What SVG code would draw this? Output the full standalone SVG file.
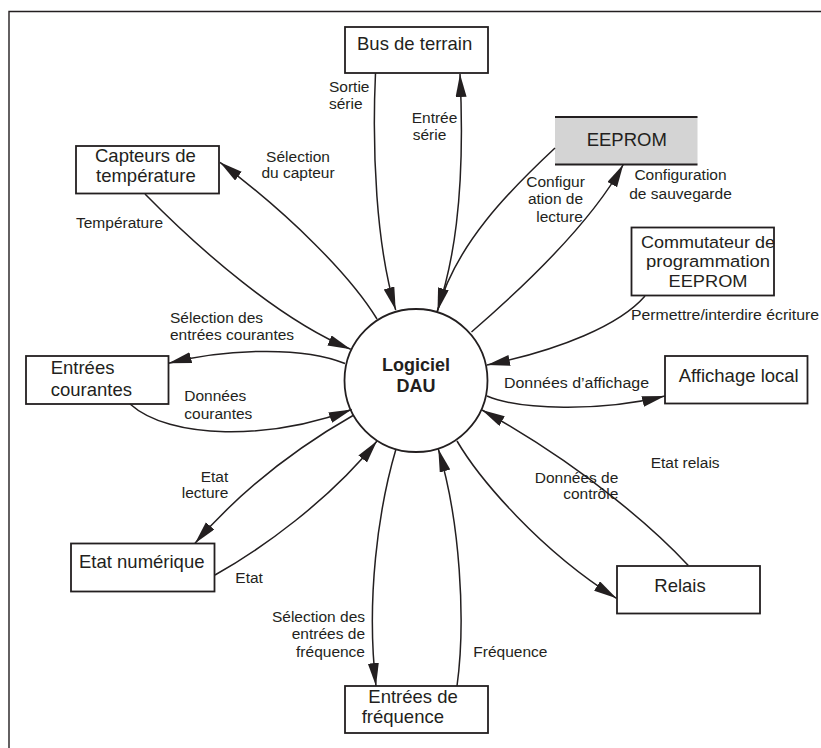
<svg xmlns="http://www.w3.org/2000/svg" width="821" height="748" viewBox="0 0 821 748">
  <style>
    .box { fill: #ffffff; stroke: #231f20; stroke-width: 1.8; }
    .frame { fill: none; stroke: #231f20; stroke-width: 1.4; }
    .flow { fill: none; stroke: #231f20; stroke-width: 1.5; marker-end: url(#arrow); }
    .node-text { font-family: "Liberation Sans", Arial, sans-serif; font-size: 18.5px; fill: #231f20; }
    .node-text-tight { font-family: "Liberation Sans", Arial, sans-serif; font-size: 17.2px; fill: #231f20; }
    .label { font-family: "Liberation Sans", Arial, sans-serif; font-size: 15.5px; fill: #231f20; }
    .center-text { font-family: "Liberation Sans", Arial, sans-serif; font-size: 18px; font-weight: bold; fill: #231f20; }
  </style>
  <defs>
    <marker id="arrow" markerUnits="userSpaceOnUse" markerWidth="24" markerHeight="12" refX="23" refY="5.5" orient="auto">
      <path d="M0,0 L23,5.5 L0,11 Z" fill="#231f20"/>
    </marker>
  </defs>

  <rect width="821" height="748" fill="#ffffff"/>

  <!-- outer frame: top and left edges only -->
  <path class="frame" d="M9,748 L9,11.5 L821,11.5"/>

  <!-- central process -->
  <g id="logiciel-dau">
    <circle cx="416" cy="380.5" r="71.5" fill="#ffffff" stroke="#231f20" stroke-width="1.8"/>
    <text class="center-text" x="416" y="371" text-anchor="middle">Logiciel</text>
    <text class="center-text" x="416" y="392" text-anchor="middle">DAU</text>
  </g>

  <!-- external entities -->
  <g id="bus-de-terrain">
    <rect class="box" x="345" y="27" width="143" height="46"/>
    <text class="node-text" x="357" y="50">Bus de terrain</text>
  </g>

  <g id="capteurs-temperature">
    <rect class="box" x="76" y="146" width="143" height="47.5"/>
    <text class="node-text" x="95" y="162.3">Capteurs de</text>
    <text class="node-text" x="96" y="182">température</text>
  </g>

  <g id="eeprom">
    <rect x="555" y="117" width="142.5" height="47.5" fill="#d4d4d4"/>
    <line x1="555" y1="117" x2="697.5" y2="117" stroke="#231f20" stroke-width="1.8"/>
    <line x1="555" y1="164.5" x2="697.5" y2="164.5" stroke="#231f20" stroke-width="1.8"/>
    <text class="node-text" x="586.7" y="145.5">EEPROM</text>
  </g>

  <g id="commutateur-eeprom">
    <rect class="box" x="631.5" y="227.5" width="142.5" height="68"/>
    <text class="node-text-tight" x="708" y="247.5" text-anchor="middle" textLength="134" lengthAdjust="spacingAndGlyphs">Commutateur de</text>
    <text class="node-text-tight" x="708" y="266.7" text-anchor="middle" textLength="124" lengthAdjust="spacingAndGlyphs">programmation</text>
    <text class="node-text-tight" x="708" y="286.7" text-anchor="middle" textLength="79" lengthAdjust="spacingAndGlyphs">EEPROM</text>
  </g>

  <g id="entrees-courantes">
    <rect class="box" x="26" y="356" width="142.5" height="48"/>
    <text class="node-text" x="50.7" y="374">Entrées</text>
    <text class="node-text" x="50.7" y="395.7">courantes</text>
  </g>

  <g id="affichage-local">
    <rect class="box" x="665" y="356" width="142.5" height="47.5"/>
    <text class="node-text" x="678.7" y="382.3">Affichage local</text>
  </g>

  <g id="etat-numerique">
    <rect class="box" x="71" y="543.5" width="143.5" height="48"/>
    <text class="node-text" x="79" y="567.7">Etat numérique</text>
  </g>

  <g id="relais">
    <rect class="box" x="617" y="566" width="143" height="47.5"/>
    <text class="node-text" x="654.3" y="591.7">Relais</text>
  </g>

  <g id="entrees-frequence">
    <rect class="box" x="345" y="686" width="143" height="47"/>
    <text class="node-text" x="368.3" y="703">Entrées de</text>
    <text class="node-text" x="361.7" y="723.3">fréquence</text>
  </g>

  <!-- data flows -->
  <g id="connectors">
    <path class="flow" d="M375.5,73 C372,150 376,245 395.7,310"/>
    <path class="flow" d="M437,312 C452,268 466,200 460,74"/>
    <path class="flow" d="M555,148 C510,190 455,245 437.5,311"/>
    <path class="flow" d="M471.5,332 C520,290 590,225 623.3,164.5"/>
    <path class="flow" d="M377,319 C350,275 290,215 220,162.3"/>
    <path class="flow" d="M145,194 C200,250 280,320 350.7,349.3"/>
    <path class="flow" d="M345,363.5 C300,345 220,350 168.5,363.3"/>
    <path class="flow" d="M130,404 C170,440 270,440 351.7,409.5"/>
    <path class="flow" d="M353,415.5 C310,440 250,480 195,543.3"/>
    <path class="flow" d="M215,575 C260,550 330,500 377,441"/>
    <path class="flow" d="M396,449 C378,510 366,600 376,686"/>
    <path class="flow" d="M457,686 C466,620 460,520 438.3,449"/>
    <path class="flow" d="M457,441 C480,480 540,550 616.5,598.3"/>
    <path class="flow" d="M688.3,565.5 C660,535 590,470 482,410"/>
    <path class="flow" d="M487,396 C520,410 600,412 665,396"/>
    <path class="flow" d="M645,296 C620,325 560,350 487,365"/>
  </g>

  <!-- flow labels -->
  <g id="flow-labels">
    <text class="label" x="329" y="91.7">Sortie</text>
    <text class="label" x="329" y="109.3">série</text>
    <text class="label" x="411.7" y="122.7">Entrée</text>
    <text class="label" x="412.7" y="140">série</text>
    <text class="label" x="298" y="161.5" text-anchor="middle">Sélection</text>
    <text class="label" x="298" y="177.5" text-anchor="middle">du capteur</text>
    <text class="label" x="76" y="228.3">Température</text>
    <text class="label" x="555.5" y="186.7" text-anchor="middle">Configur</text>
    <text class="label" x="555.5" y="204" text-anchor="middle">ation de</text>
    <text class="label" x="559.5" y="221.7" text-anchor="middle">lecture</text>
    <text class="label" x="680.5" y="180" text-anchor="middle">Configuration</text>
    <text class="label" x="680.5" y="199" text-anchor="middle">de sauvegarde</text>
    <text class="label" x="631" y="319.5" textLength="188" lengthAdjust="spacingAndGlyphs">Permettre/interdire écriture</text>
    <text class="label" x="170" y="322.7">Sélection des</text>
    <text class="label" x="170" y="340">entrées courantes</text>
    <text class="label" x="184.3" y="401">Données</text>
    <text class="label" x="184.3" y="419.3">courantes</text>
    <text class="label" x="504" y="387.7" textLength="145" lengthAdjust="spacingAndGlyphs">Données d’affichage</text>
    <text class="label" x="228.3" y="482.3" text-anchor="end">Etat</text>
    <text class="label" x="228.3" y="498.3" text-anchor="end">lecture</text>
    <text class="label" x="650.7" y="468.3">Etat relais</text>
    <text class="label" x="618.3" y="482.7" text-anchor="end">Données de</text>
    <text class="label" x="618.3" y="498.5" text-anchor="end">contrôle</text>
    <text class="label" x="235.3" y="583.3">Etat</text>
    <text class="label" x="365" y="622.3" text-anchor="end">Sélection des</text>
    <text class="label" x="365" y="639.3" text-anchor="end">entrées de</text>
    <text class="label" x="365" y="656.7" text-anchor="end">fréquence</text>
    <text class="label" x="473.3" y="656.7">Fréquence</text>
  </g>
</svg>
